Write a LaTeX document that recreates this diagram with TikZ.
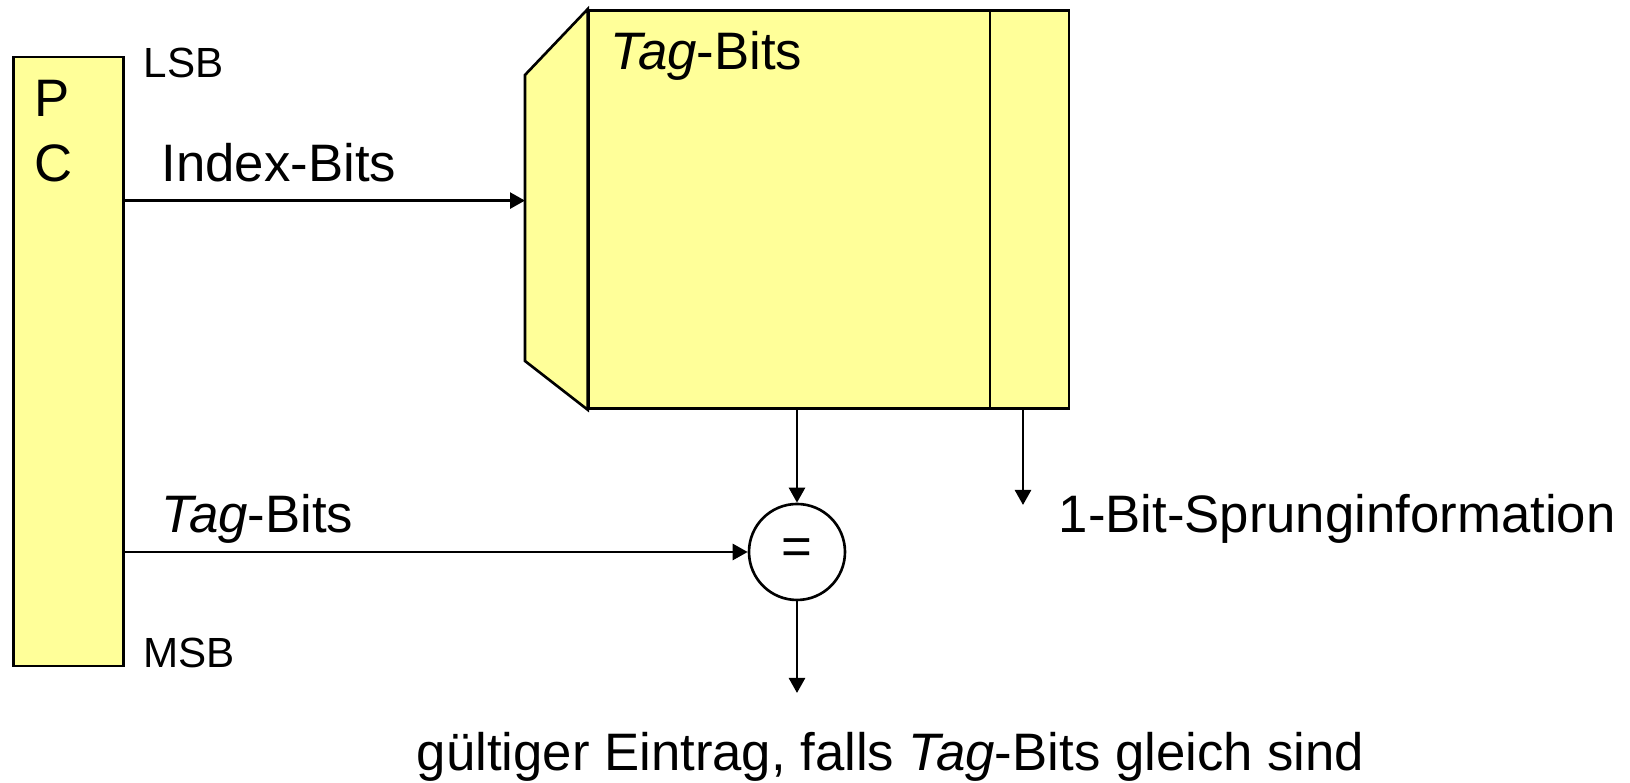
\documentclass[tikz,border=0pt]{standalone}
\usepackage{fontspec}
\setmainfont{Liberation Sans}
\usepackage{tikz}
\usetikzlibrary{calc}
\usetikzlibrary{arrows.meta}
\usepackage{xcolor}
\definecolor{regyellow}{RGB}{255,255,153}

\begin{document}
\begin{tikzpicture}[
    regbox/.style={draw, fill=regyellow, line width=0.75pt, inner sep=0pt},
    sig/.style={-{Triangle[length=0.15cm, width=0.16cm]}, line width=0.75pt},
    lbl/.style={inner sep=0pt, anchor=base west, font=\fontsize{15}{18}\selectfont},
    small/.style={inner sep=0pt, anchor=base west, font=\fontsize{12}{14}\selectfont}
]
    \useasboundingbox (0, 0) rectangle (16.3, 7.83);
    % PC register
    \node[regbox, minimum width=1.10cm, minimum height=6.09cm] (pc) at (0.686, 4.215) {};
    \node[lbl] (pcP) at (0.34, 6.66) {P};
    \node[lbl] (pcC) at (0.34, 6.01) {C};
    \node[small] (lsb) at (1.43, 7.05) {LSB};
    \node[small] (msb) at (1.43, 1.15) {MSB};
    % table with decoder
    \node[regbox, minimum width=4.80cm, minimum height=3.98cm] (tab) at (8.29, 5.7355) {};
    \filldraw[regbox] (tab.north west) -- (5.25, 7.08) -- (5.25, 4.22) -- (tab.south west) -- cycle;
    \coordinate (split) at (9.90, 0);
    \draw[line width=0.75pt] (tab.south -| split) -- (tab.north -| split);
    \node[lbl] (tagtab) at (6.10, 7.13) {\textit{Tag}-Bits};
    % comparator
    \node[draw, circle, line width=0.75pt, minimum size=0.96cm, inner sep=0pt, font=\fontsize{15}{18}\selectfont] (cmp) at (7.97, 2.31) {=};
    \coordinate (idx) at (5.25, 5.824);
    \coordinate (jmp) at (10.23, 2.78);
    \coordinate (valid) at (7.97, 0.90);
    \draw[sig] (pc.east |- idx) -- (idx);
    \draw[sig] (pc.east |- cmp) -- (cmp);
    \draw[sig] (tab.south -| cmp) -- (cmp);
    \draw[sig] (tab.south -| jmp) -- (jmp);
    \draw[sig] (cmp) -- (valid);
    \node[lbl] (idxlbl) at (1.61, 6.01) {Index-Bits};
    \node[lbl] (taglbl) at (1.61, 2.50) {\textit{Tag}-Bits};
    \node[lbl] (jmplbl) at (10.58, 2.50) {1-Bit-Sprunginformation};
    \node[lbl] (validlbl) at (4.16, 0.12) {gültiger Eintrag, falls \textit{Tag}-Bits gleich sind};
\end{tikzpicture}
\end{document}
